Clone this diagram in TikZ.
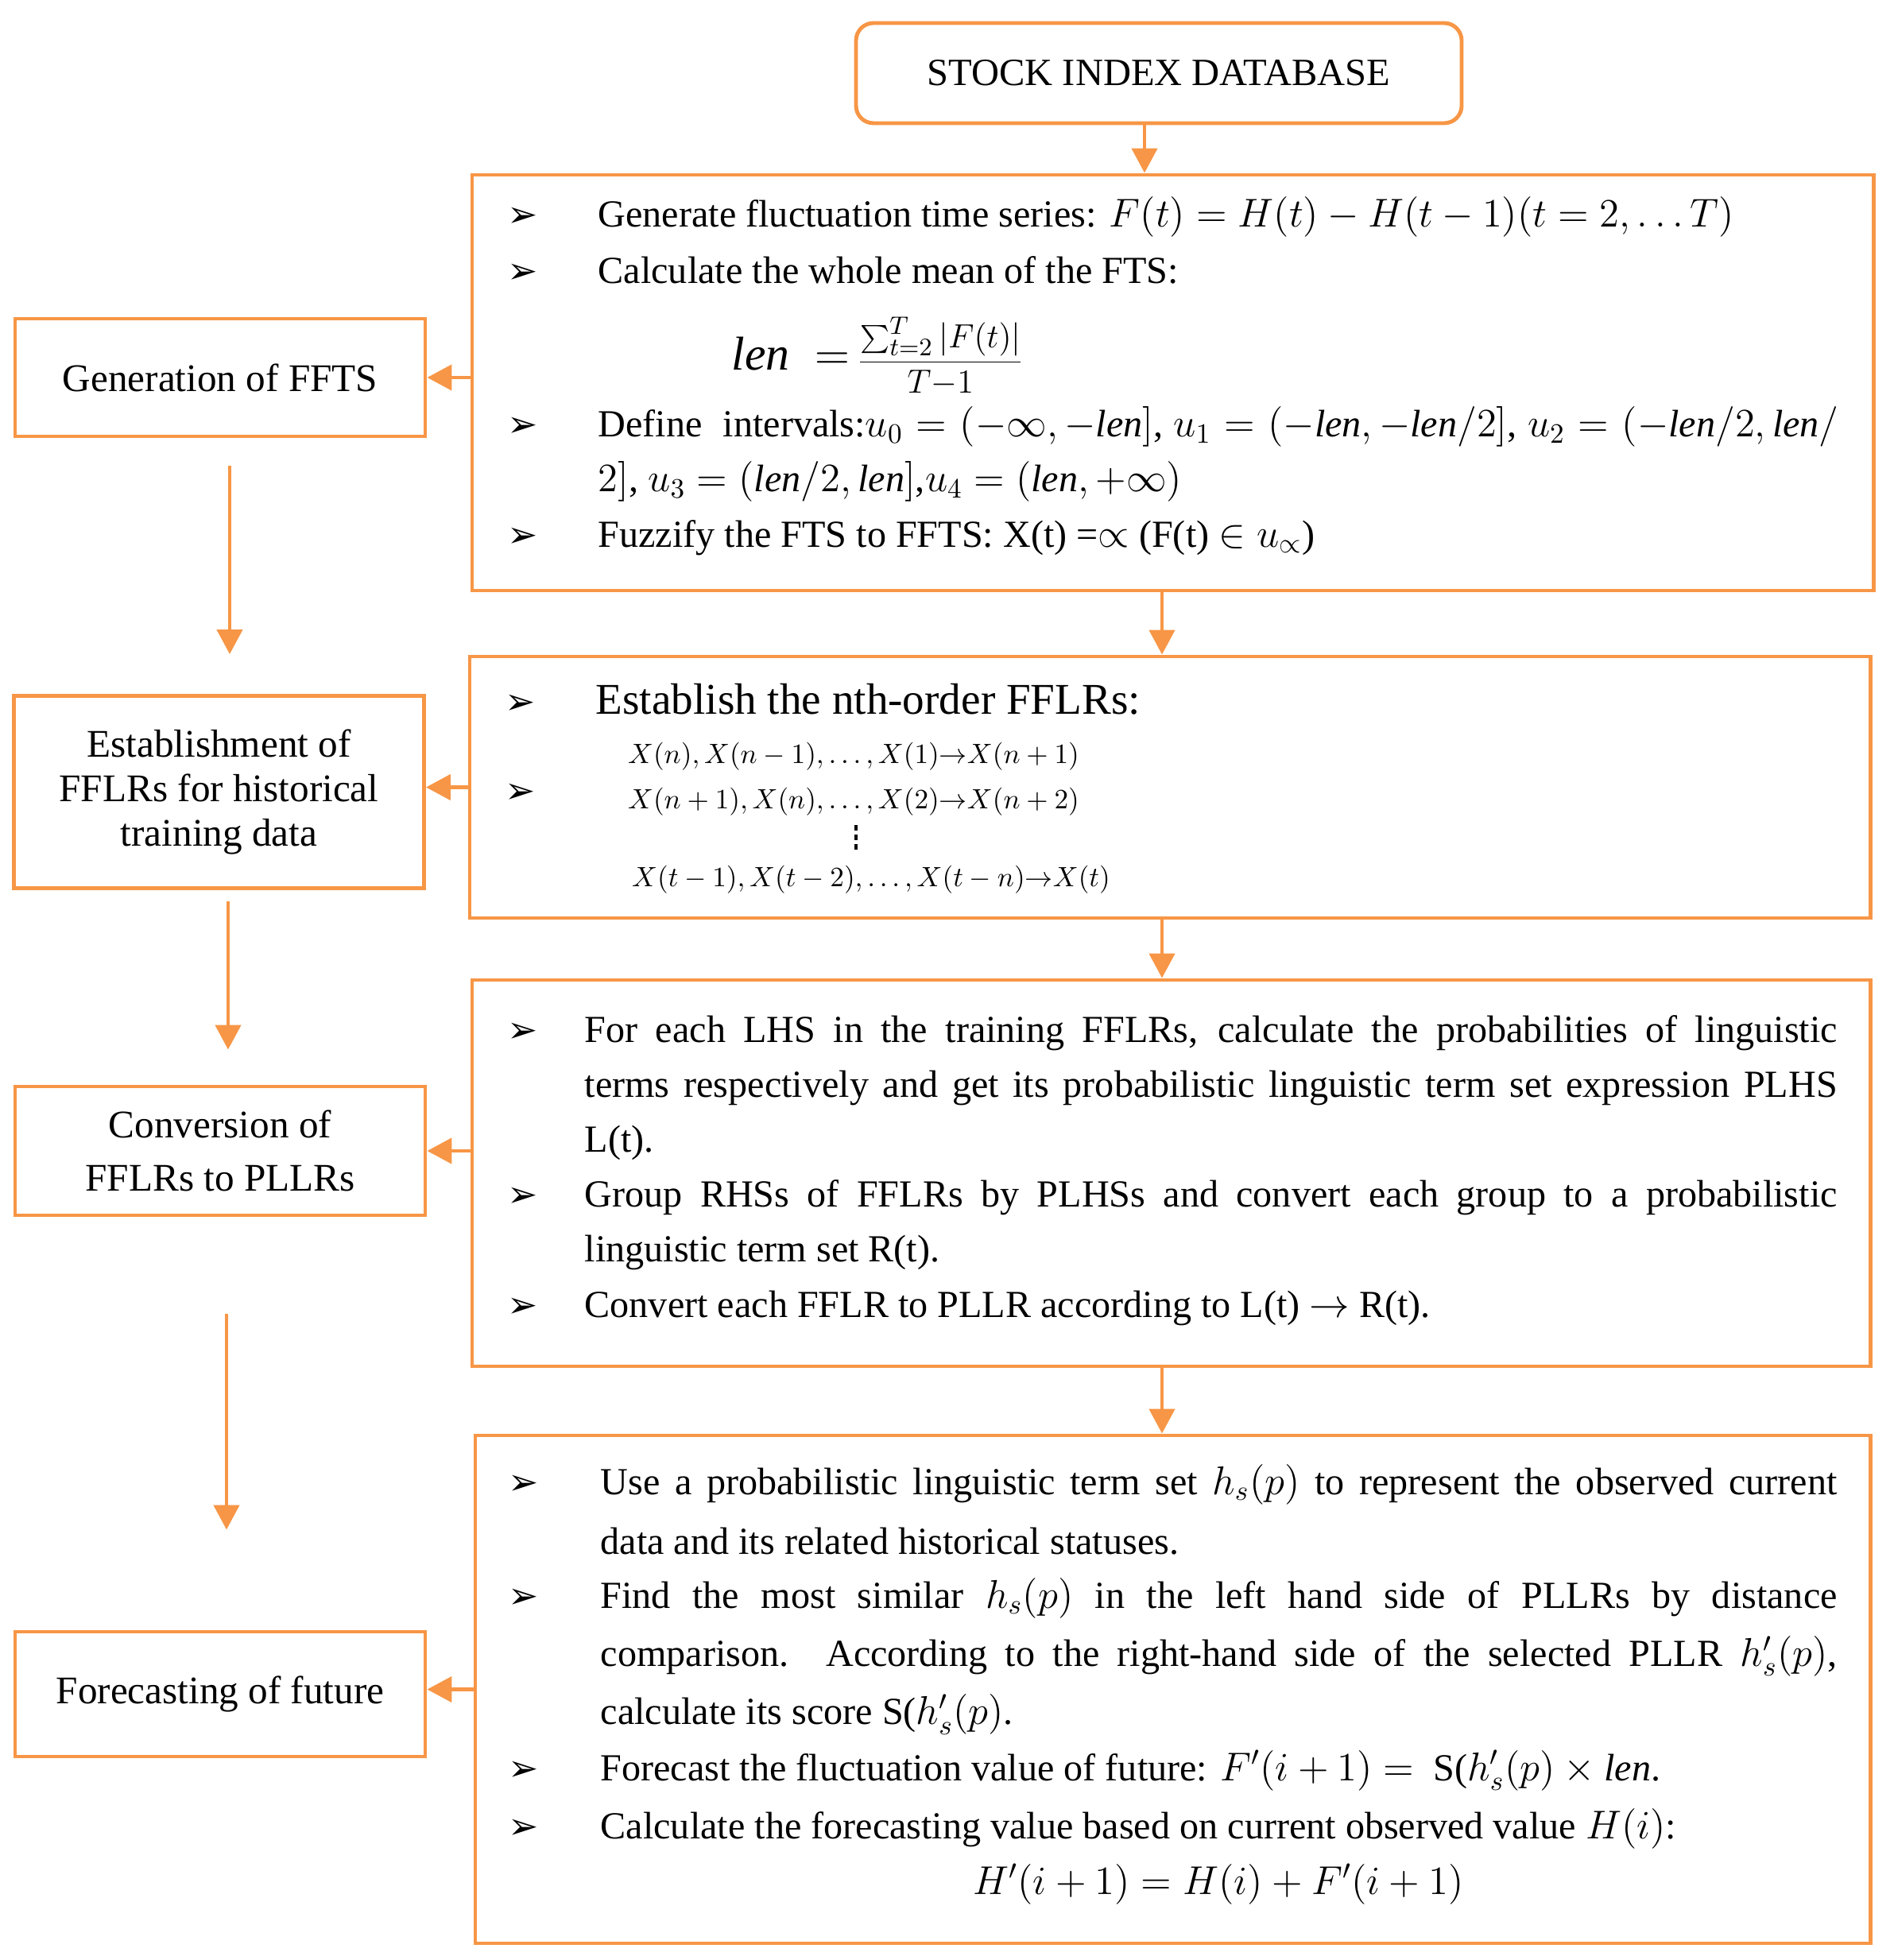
\documentclass[tikz,border=0pt]{standalone}
\usepackage{fontspec}
\setmainfont{Liberation Serif}
\newfontfamily\symfont{DejaVu Sans}
\usetikzlibrary{arrows.meta}
\definecolor{frame}{RGB}{247,150,70}
\newcommand{\lenv}{\mathit{len}}
\newcommand{\arrowbul}{{\symfont ➢}}

\begin{document}
\begin{tikzpicture}
	\tikzset{box/.style={draw=frame,line width=1.4pt,inner sep=0pt},
		side/.style={box,minimum width=5.16cm,align=center,font=\fontsize{14}{15.8}\selectfont},
		arr/.style={draw=frame,line width=1.3pt,-{Triangle[length=0.31cm,width=0.32cm]}},
		txt/.style={anchor=base west,inner sep=0pt,align=justify,font=\fontsize{13.7}{20}\selectfont},
		bul/.style={anchor=base,inner sep=0pt,font=\fontsize{13}{13}\selectfont},
		flr/.style={anchor=base,inner sep=0pt,font=\fontsize{10.2}{12}\selectfont},
		vdash/.style={line width=1.1pt,dash pattern=on 0.07cm off 0.05cm}}
	\useasboundingbox (0,0) rectangle (23.82,-24.66);
	
	\node[box,rounded corners=0.22cm,minimum width=7.62cm,minimum height=1.26cm,font=\fontsize{13.8}{16}\selectfont] (db) at (14.58,-0.92) {STOCK INDEX DATABASE};
	\node[box,minimum width=17.63cm,minimum height=5.23cm] (fts) at (14.755,-4.815) {};
	\node[box,minimum width=17.62cm,minimum height=3.29cm] (fflr) at (14.72,-9.905) {};
	\node[box,minimum width=17.59cm,minimum height=4.86cm] (pllr) at (14.735,-14.76) {};
	\node[box,minimum width=17.55cm,minimum height=6.39cm] (fore) at (14.755,-21.255) {};
	
	\node[side,minimum height=1.48cm] (gen) at (2.77,-4.75) {Generation of FFTS};
	\node[side,minimum height=2.42cm] (est) at (2.755,-9.965) {Establishment of\\FFLRs for historical\\training data};
	\node[side,minimum height=1.62cm,font=\fontsize{14}{19}\selectfont] (conv) at (2.77,-14.48) {Conversion of\\FFLRs to PLLRs};
	\node[side,minimum height=1.57cm] (fc) at (2.77,-21.315) {Forecasting of future};
	
	\coordinate (c1) at ([xshift=-0.18cm]db.south);
	\coordinate (c2) at (14.62,0);
	\draw[arr] (c1) -- (c1 |- fts.north);
	\draw[arr] (c2 |- fts.south) -- (c2 |- fflr.north);
	\draw[arr] (c2 |- fflr.south) -- (c2 |- pllr.north);
	\draw[arr] (c2 |- pllr.south) -- (c2 |- fore.north);
	
	\draw[arr] (fts.west |- gen.east) -- (gen.east);
	\draw[arr] (fflr.west) -- (fflr.west -| est.east);
	\draw[arr] (pllr.west |- conv.east) -- (conv.east);
	\draw[arr] (fore.west) -- (fore.west -| fc.east);
	
	\draw[arr] ([xshift=0.12cm,yshift=-0.35cm]gen.south) -- ([xshift=0.135cm,yshift=0.5cm]est.north);
	\draw[arr] ([xshift=0.115cm,yshift=-0.14cm]est.south) -- ([xshift=0.10cm,yshift=0.44cm]conv.north);
	\draw[arr] ([xshift=0.08cm,yshift=-1.22cm]conv.south) -- ([xshift=0.08cm,yshift=1.26cm]fc.north);
	
	\node[bul] (b11) at (6.575,-2.86) {\arrowbul};
	\node[txt,text width=15.61cm] (t11) at (7.52,-2.86) {Generate fluctuation time series: $F(t) = H(t) - H(t-1)(t = 2,\ldots T)$};
	\node[bul] (b12) at (6.575,-3.57) {\arrowbul};
	\node[txt,text width=15.61cm] (t12) at (7.52,-3.57) {Calculate the whole mean of the FTS:};
	\node[anchor=base west,inner sep=0pt] (lenf) at (9.20,-4.66) {{\fontsize{17}{20}\selectfont$\lenv\ =$}\ {\fontsize{12.5}{14}\selectfont$\displaystyle\frac{\sum_{t=2}^{T}|F(t)|}{T{-}1}$}};
	\node[bul] (b13) at (6.575,-5.50) {\arrowbul};
	\node[txt,text width=15.61cm,font=\fontsize{13.7}{19.6}\selectfont] (t13) at (7.52,-5.50) {Define\ \ intervals:$u_0 = (-\infty,-\lenv]$, $u_1 = (-\lenv,-\lenv/2]$, $u_2 = (-\lenv/2,\lenv/$\linebreak $2]$, $u_3 = (\lenv/2,\lenv]$,$u_4 = (\lenv,+\infty)$};
	\node[bul] (b14) at (6.575,-6.88) {\arrowbul};
	\node[txt,text width=15.61cm] (t14) at (7.52,-6.88) {Fuzzify the FTS to FFTS: X(t) =$\propto$ (F(t) $\in u_{\propto}$)};
	
	\node[bul] (b21) at (6.55,-8.98) {\arrowbul};
	\node[txt,text width=15.5cm,font=\fontsize{15.7}{18}\selectfont] (t21) at (7.49,-8.98) {Establish the nth-order FFLRs:};
	\node[flr] (r1) at (10.74,-9.60) {$X(n),X(n-1),\ldots,X(1){\rightarrow}X(n+1)$};
	\node[bul] (b22) at (6.55,-10.10) {\arrowbul};
	\node[flr] (r2) at (10.74,-10.17) {$X(n+1),X(n),\ldots,X(2){\rightarrow}X(n+2)$};
	\node[flr] (r3) at (10.96,-11.15) {$X(t-1),X(t-2),\ldots,X(t-n){\rightarrow}X(t)$};
	\draw[vdash] (10.77,-10.38) -- (10.77,-10.69);
	
	\node[bul] (b31) at (6.575,-13.11) {\arrowbul};
	\node[txt,text width=15.76cm,font=\fontsize{13.7}{19.7}\selectfont] (t31) at (7.35,-13.11) {For each LHS in the training FFLRs, calculate the probabilities of linguistic\linebreak terms respectively and get its probabilistic linguistic term set expression PLHS\linebreak L(t).};
	\node[bul] (b32) at (6.575,-15.18) {\arrowbul};
	\node[txt,text width=15.76cm,font=\fontsize{13.7}{19.7}\selectfont] (t32) at (7.35,-15.18) {Group RHSs of FFLRs by PLHSs and convert each group to a probabilistic\linebreak linguistic term set R(t).};
	\node[bul] (b33) at (6.575,-16.57) {\arrowbul};
	\node[txt,text width=15.76cm] (t33) at (7.35,-16.57) {Convert each FFLR to PLLR according to L(t) $\rightarrow$ R(t).};
	
	\node[bul] (b41) at (6.585,-18.80) {\arrowbul};
	\node[txt,text width=15.56cm,font=\fontsize{13.7}{21.5}\selectfont] (t41) at (7.55,-18.80) {Use a probabilistic linguistic term set $h_s(p)$ to represent the observed current\linebreak data and its related historical statuses.};
	\node[bul] (b42) at (6.585,-20.23) {\arrowbul};
	\node[txt,text width=15.56cm,font=\fontsize{13.7}{20.9}\selectfont] (t42) at (7.55,-20.23) {Find the most similar $h_s(p)$ in the left hand side of PLLRs by distance\linebreak comparison. According to the right-hand side of the selected PLLR $h'_s(p)$,\linebreak calculate its score S($h'_s(p)$.};
	\node[bul] (b43) at (6.585,-22.40) {\arrowbul};
	\node[txt,text width=15.56cm] (t43) at (7.55,-22.40) {Forecast the fluctuation value of future: $F'(i+1) =$ \ S($h'_s(p)\times \lenv$.};
	\node[bul] (b44) at (6.585,-23.13) {\arrowbul};
	\node[txt,text width=15.56cm] (t44) at (7.55,-23.13) {Calculate the forecasting value based on current observed value $H(i)$:};
	\node[anchor=base,inner sep=0pt,font=\fontsize{13.7}{16}\selectfont] (hf) at (15.33,-23.83) {$H'(i+1) = H(i) + F'(i+1)$};
\end{tikzpicture}
\end{document}
